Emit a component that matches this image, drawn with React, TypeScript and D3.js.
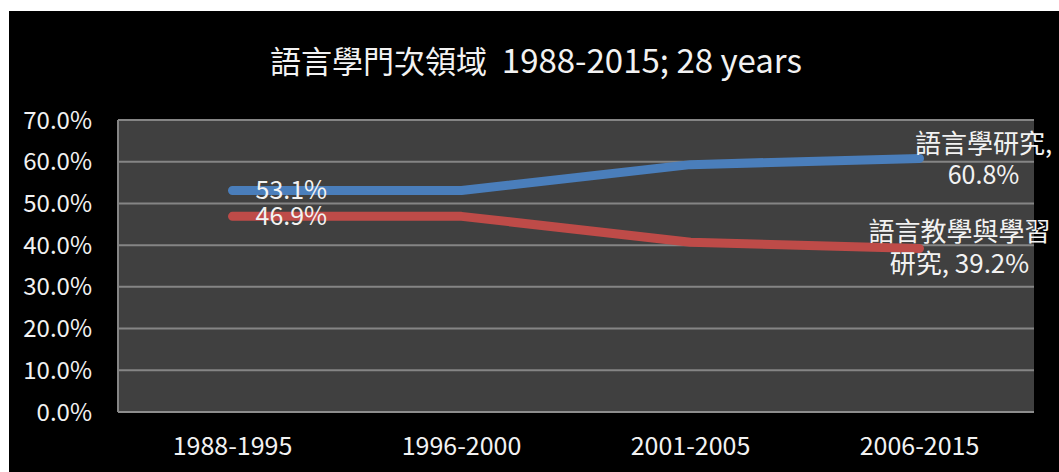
import React from "react";
import * as d3 from "d3";

const categories = ["1988-1995", "1996-2000", "2001-2005", "2006-2015"];
const linguisticsValues = [53.1, 53.1, 59.3, 60.8];
const teachingValues = [46.9, 46.9, 40.7, 39.2];
const yTicks = [0, 10, 20, 30, 40, 50, 60, 70];
const titleCJK = "語言學門次領域";
const titleLatin = "1988-2015; 28 years";
const seriesNames = ["語言學研究", "語言教學與學習研究"];

const W = 1059;
const H = 472;
const plot = { left: 118, right: 1034, top: 120, bottom: 412 };
const FONT = "'Noto Sans CJK TC', 'Noto Sans', sans-serif";
const TEXT = "#f2f2f2";
const BLUE = "#4a7ebb";
const RED = "#be4b48";

export default function App() {
  const x = d3.scaleBand<string>().domain(categories).range([plot.left, plot.right]);
  const cx = (c: string) => (x(c) as number) + x.bandwidth() / 2;
  const y = d3.scaleLinear().domain([0, 70]).range([plot.bottom, plot.top]);
  const line = d3
    .line<number>()
    .x((_, i) => cx(categories[i]))
    .y((d) => y(d));

  const fmt = (v: number) => v.toFixed(1) + "%";
  const lastI = categories.length - 1;
  const bx = cx(categories[lastI]);
  const byB = y(linguisticsValues[lastI]);
  const byR = y(teachingValues[lastI]);
  const fx = cx(categories[0]);

  return (
    <svg
      width={W}
      height={H}
      style={{ position: "absolute", left: 0, top: 0, display: "block" }}
      fontFamily={FONT}
    >
      <rect x={0} y={0} width={W} height={H} fill="#ffffff" />
      <rect x={9} y={11} width={W - 9} height={H - 11} fill="#000000" />
      <rect
        x={plot.left}
        y={plot.top}
        width={plot.right - plot.left}
        height={plot.bottom - plot.top}
        fill="#404040"
      />
      {yTicks.map((t) => (
        <line
          key={t}
          x1={plot.left}
          x2={plot.right}
          y1={y(t)}
          y2={y(t)}
          stroke={t === 0 ? "#8c8c8c" : "#858585"}
          strokeWidth={2}
        />
      ))}
      <line x1={plot.left} x2={plot.left} y1={plot.top} y2={plot.bottom} stroke="#858585" strokeWidth={2} />
      {yTicks.map((t) => (
        <text
          key={"t" + t}
          x={92}
          y={y(t)}
          dy="0.36em"
          textAnchor="end"
          fontSize={24}
          fill={TEXT}
        >
          {fmt(t)}
        </text>
      ))}
      {categories.map((c) => (
        <text key={c} x={cx(c)} y={455} textAnchor="middle" fontSize={25} fill={TEXT}>
          {c}
        </text>
      ))}
      <text x={536} y={73} textAnchor="middle" fill={TEXT}>
        <tspan fontSize={31}>{titleCJK}</tspan>
        <tspan fontSize={33}>{"\u00a0\u00a0" + titleLatin}</tspan>
      </text>
      <path
        d={line(linguisticsValues) || ""}
        fill="none"
        stroke={BLUE}
        strokeWidth={9}
        strokeLinecap="round"
        strokeLinejoin="round"
      />
      <path
        d={line(teachingValues) || ""}
        fill="none"
        stroke={RED}
        strokeWidth={9}
        strokeLinecap="round"
        strokeLinejoin="round"
      />
      <text x={fx + 23} y={y(linguisticsValues[0])} dy="0.36em" fontSize={25} fill={TEXT}>
        {fmt(linguisticsValues[0])}
      </text>
      <text x={fx + 23} y={y(teachingValues[0])} dy="0.36em" fontSize={25} fill={TEXT}>
        {fmt(teachingValues[0])}
      </text>
      <text textAnchor="middle" fontSize={26} fill={TEXT}>
        <tspan x={bx + 64} y={byB - 5}>{seriesNames[0] + ","}</tspan>
        <tspan x={bx + 64} y={byB + 26} fontSize={25}>{fmt(linguisticsValues[lastI])}</tspan>
      </text>
      <text textAnchor="middle" fontSize={26} fill={TEXT}>
        <tspan x={bx + 40} y={byR - 7}>{seriesNames[1].slice(0, 7)}</tspan>
        <tspan x={bx + 40} y={byR + 25}>{seriesNames[1].slice(7) + ", " + fmt(teachingValues[lastI])}</tspan>
      </text>
    </svg>
  );
}
